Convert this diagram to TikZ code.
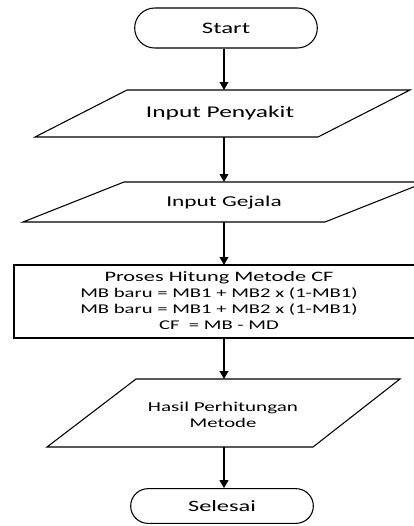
\documentclass[tikz,border=0pt]{standalone}
\usepackage{fontspec}
\setmainfont{Carlito}[FakeStretch=1.55]
\usetikzlibrary{arrows.meta,shapes.misc}
\begin{document}
\begin{tikzpicture}[x=0.75pt,y=-0.75pt,
  shp/.style={draw=black,line width=0.8pt,fill=white},
  term/.style={rounded rectangle,draw=black,line width=0.8pt,minimum width=137pt,inner sep=0pt},
  txt/.style={align=center,inner sep=0pt,text=black},
  arr/.style={line width=1.1pt,-{Triangle[length=6pt,width=6.5pt]}}]
\useasboundingbox (0,0) rectangle (414,526);
\clip (0,0) rectangle (414,526);
% Start
\node[term,minimum height=30pt] (start) at (226,28) {\fontsize{12}{14}\selectfont Start};
% Input Penyakit
\draw[shp] (127,90) -- (410,90) -- (318,137) -- (35,137) -- cycle;
\node[txt] (p1) at (220,113) {\fontsize{12.3}{14}\selectfont Input Penyakit};
\coordinate (p1t) at (224,90);
\coordinate (p1b) at (224,137);
% Input Gejala
\draw[shp] (124,182) -- (426,182) -- (325,222) -- (23,222) -- cycle;
\node[txt] (p2) at (224,203) {\fontsize{11.3}{13}\selectfont Input Gejala};
\coordinate (p2t) at (224,182);
\coordinate (p2b) at (224,222);
% Process
\draw[shp] (14,265) rectangle (420,338);
\node[txt] (proc) at (219,301) {\fontsize{10.8}{11.8}\selectfont Proses Hitung Metode CF\\
MB baru = MB1 + MB2 x (1-MB1)\\
MB baru = MB1 + MB2 x (1-MB1)\\
CF \ = MB - MD};
\coordinate (rt) at (224,265);
\coordinate (rb) at (224,338);
% Hasil
\draw[shp] (136,379) -- (400,379) -- (313,447) -- (47,447) -- cycle;
\node[txt] (p3) at (223,415) {\fontsize{10.2}{13.5}\selectfont Hasil Perhitungan\\Metode};
\coordinate (p3t) at (224,379);
\coordinate (p3b) at (224,447);
% Selesai
\node[term,minimum height=26pt] (end) at (222,506) {\fontsize{11.8}{14}\selectfont Selesai};
% arrows
\draw[arr] (start.south -| p1t) -- (p1t);
\draw[arr] (p1b) -- (p2t);
\draw[arr] (p2b) -- (rt);
\draw[arr] (rb) -- (p3t);
\draw[arr] (p3b) -- (end.north -| p3b);
\end{tikzpicture}
\end{document}
